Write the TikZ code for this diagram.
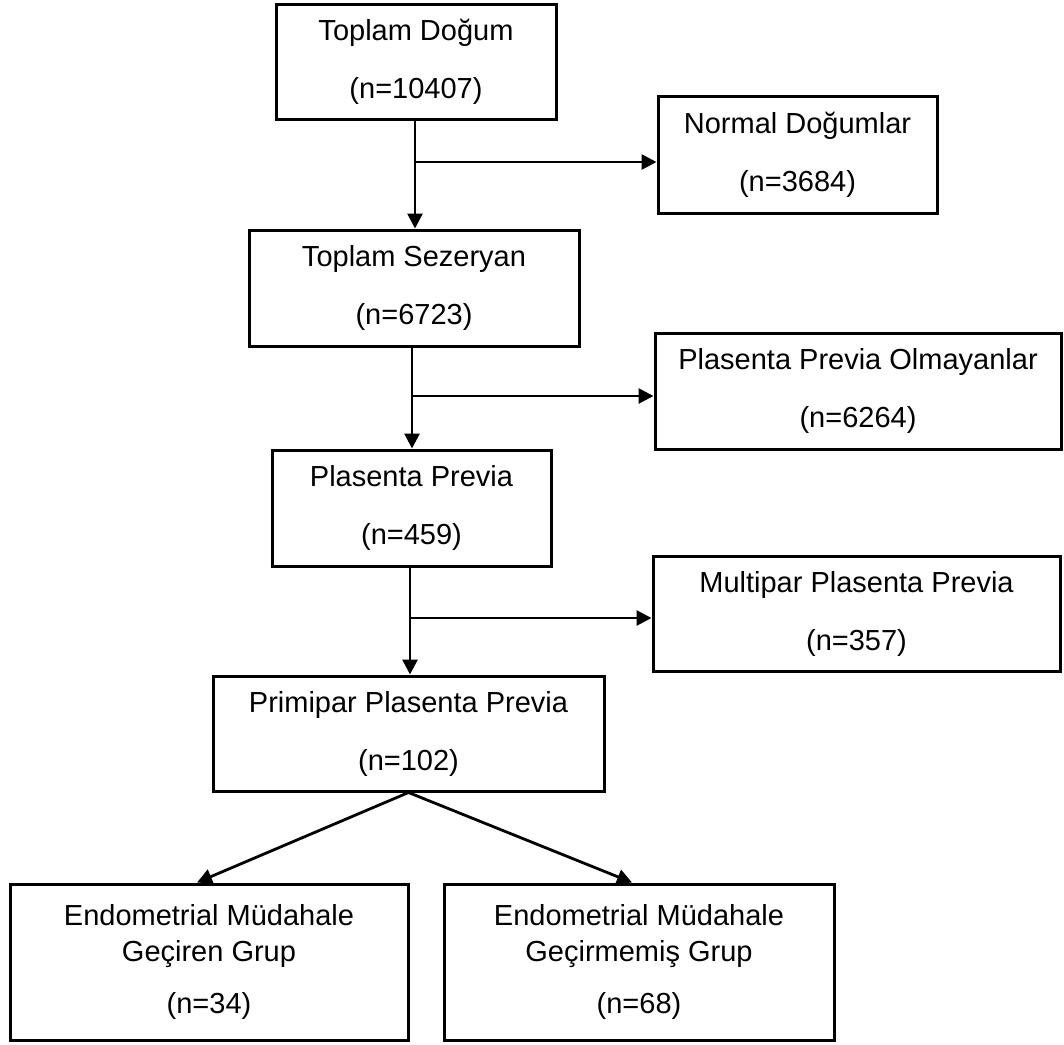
\documentclass[tikz,border=0pt]{standalone}
\usepackage{fontspec}
\setmainfont{Liberation Sans}
\usetikzlibrary{arrows.meta,calc}
\tikzset{
  flowbox/.style={draw=black, line width=3pt, fill=white, rectangle, inner sep=0pt,
    align=center, font=\fontsize{29}{58}\selectfont},
  lowbox/.style={flowbox, font=\fontsize{29}{36}\selectfont},
  conn/.style={line width=2.8pt, -{Triangle[length=15pt,width=15pt]}},
}
\begin{document}
\begin{tikzpicture}[x=1pt,y=-1pt]
\useasboundingbox (0,0) rectangle (1064,1044);
\fill[white] (0,0) rectangle (1064,1044);

\node[flowbox, minimum width=280pt, minimum height=115pt] (top) at (416,61.5) {Toplam Doğum\\(n=10407)};
\node[flowbox, minimum width=279pt, minimum height=117pt] (normal) at (797.5,154.5) {Normal Doğumlar\\(n=3684)};
\node[flowbox, minimum width=330pt, minimum height=116pt] (ses) at (414,288) {Toplam Sezeryan\\(n=6723)};
\node[flowbox, minimum width=406pt, minimum height=116pt] (olm) at (858,391) {Plasenta Previa Olmayanlar\\(n=6264)};
\node[flowbox, minimum width=279pt, minimum height=116pt] (pp) at (411.5,508) {Plasenta Previa\\(n=459)};
\node[flowbox, minimum width=407pt, minimum height=115pt] (multi) at (856.5,613.5) {Multipar Plasenta Previa\\(n=357)};
\node[flowbox, minimum width=391pt, minimum height=115pt] (prim) at (408.5,733.5) {Primipar Plasenta Previa\\(n=102)};
\node[lowbox, minimum width=398pt, minimum height=156pt] (eg) at (209,962) {Endometrial Müdahale\\Geçiren Grup\\[16pt](n=34)};
\node[lowbox, minimum width=390pt, minimum height=156pt] (egm) at (639,962) {Endometrial Müdahale\\Geçirmemiş Grup\\[16pt](n=68)};

\coordinate (j1) at (415,162);
\coordinate (j2) at (412,396);
\coordinate (j3) at (410,618);

\draw[conn] (j1 |- top.south) -- (j1 |- ses.north);
\draw[conn] (j1) -- (j1 -| normal.west);
\draw[conn] (j2 |- ses.south) -- (j2 |- pp.north);
\draw[conn] (j2) -- (j2 -| olm.west);
\draw[conn] (j3 |- pp.south) -- (j3 |- prim.north);
\draw[conn] (j3) -- (j3 -| multi.west);
\draw[conn] (prim.south) -- ([xshift=-12pt]eg.north);
\draw[conn] (prim.south) -- ([xshift=-7pt]egm.north);
\end{tikzpicture}
\end{document}
